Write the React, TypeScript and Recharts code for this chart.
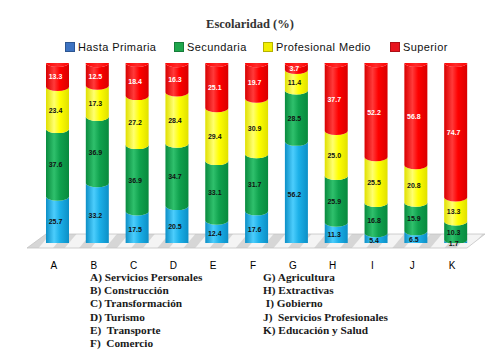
import React from 'react';
import { BarChart, Bar, XAxis, YAxis, LabelList, ReferenceArea } from 'recharts';

const categories = ['A', 'B', 'C', 'D', 'E', 'F', 'G', 'H', 'I', 'J', 'K'];
const hastaPrimaria = [25.7, 33.2, 17.5, 20.5, 12.4, 17.6, 56.2, 11.3, 5.4, 6.5, 1.7];
const secundaria = [37.6, 36.9, 36.9, 34.7, 33.1, 31.7, 28.5, 25.9, 16.8, 15.9, 10.3];
const profesionalMedio = [23.4, 17.3, 27.2, 28.4, 29.4, 30.9, 11.4, 25.0, 25.5, 20.8, 13.3];
const superior = [13.3, 12.5, 18.4, 16.3, 25.1, 19.7, 3.7, 37.7, 52.2, 56.8, 74.7];
const seriesNames = ['Hasta Primaria', 'Secundaria', 'Profesional Medio', 'Superior'];
const sectorsLeft = [
  'A) Servicios Personales',
  'B) Construcción',
  'C) Transformación',
  'D) Turismo',
  'E)  Transporte',
  'F)  Comercio',
];
const sectorsRight = [
  'G) Agricultura',
  'H) Extractivas',
  ' I) Gobierno',
  'J)  Servicios Profesionales',
  'K) Educación y Salud',
];
const titleText = 'Escolaridad (%)';

const data = categories.map((c, i) => ({
  cat: c,
  s0: hastaPrimaria[i],
  s1: secundaria[i],
  s2: profesionalMedio[i],
  s3: superior[i],
}));

type Pal = { dark: string; light: string; base: string; cap: string; legend: string; text: string };
const palettes: Pal[] = [
  { dark: '#0c8fc6', light: '#4ccdfc', base: '#1cb0e8', cap: '#3cc4f6', legend: '#3d73c2', text: '#111111' },
  { dark: '#088a3e', light: '#2fc06c', base: '#10a24e', cap: '#28b862', legend: '#1ea64c', text: '#111111' },
  { dark: '#e0e000', light: '#ffff70', base: '#ffff00', cap: '#ffff60', legend: '#f2ee00', text: '#111111' },
  { dark: '#d80000', light: '#ff3a3a', base: '#ff0000', cap: '#ff2a2a', legend: '#e8141e', text: '#ffffff' },
];

const makeCylinder = (key: string, c: Pal, isTop: boolean) => (props: any) => {
  const { x, y, width, height, index } = props;
  if (width == null || height == null || isNaN(x) || isNaN(y)) return null;
  const rx = width / 2;
  const ry = 4;
  const cx = x + rx;
  const id = `cyl-${key}-${index}`;
  const capId = `cap-${key}-${index}`;
  const d = `M${x},${y} A${rx},${ry} 0 0 0 ${x + width},${y} L${x + width},${y + height} A${rx},${ry} 0 0 1 ${x},${y + height} Z`;
  return (
    <g>
      <defs>
        <linearGradient id={id} x1="0" y1="0" x2="1" y2="0">
          <stop offset="0" stopColor={c.dark} />
          <stop offset="0.35" stopColor={c.light} />
          <stop offset="0.6" stopColor={c.base} />
          <stop offset="1" stopColor={c.dark} />
        </linearGradient>
        <linearGradient id={capId} x1="0" y1="0" x2="1" y2="0">
          <stop offset="0" stopColor={c.base} />
          <stop offset="0.5" stopColor={c.cap} />
          <stop offset="1" stopColor={c.base} />
        </linearGradient>
      </defs>
      <path d={d} fill={`url(#${id})`} />
      {isTop && <ellipse cx={cx} cy={y} rx={rx} ry={ry} fill={`url(#${capId})`} />}
    </g>
  );
};

const Floor = (props: any) => {
  const { x, y, width, height } = props;
  if (x == null || isNaN(x)) return null;
  const bottom = y + height + 5;
  const pts = `${x + 8},${y} ${x + width + 9},${y} ${x + width - 9},${bottom} ${x - 11},${bottom}`;
  return (
    <g>
      <defs>
        <pattern id="floorStripes" patternUnits="userSpaceOnUse" width="20" height="20" patternTransform="rotate(40)">
          <rect x="0" y="0" width="20" height="20" fill="#f4f4f4" />
          <rect x="0" y="0" width="9" height="20" fill="#d6d6d6" />
        </pattern>
      </defs>
      <polygon points={pts} fill="url(#floorStripes)" stroke="#c4c4c4" strokeWidth={0.8} />
    </g>
  );
};

const fmt = (v: any) => (typeof v === 'number' ? v.toFixed(1) : v);

const makeLabel = (color: string) => (p: any) => {
  const { x, y, width, height, value } = p;
  if (x == null || isNaN(Number(x))) return null;
  return (
    <text
      x={Number(x) + Number(width) / 2 - 2}
      y={Number(y) + Number(height) / 2 + 2}
      textAnchor="middle"
      dominantBaseline="central"
      fontSize={7}
      fontWeight="bold"
      fontFamily="'Liberation Sans', Arial, sans-serif"
      fill={color}
    >
      {fmt(value)}
    </text>
  );
};

const Tick = (props: any) => {
  const { x, y, payload } = props;
  return (
    <text
      x={x - 4}
      y={y + 22}
      textAnchor="middle"
      dominantBaseline="central"
      fontSize={10}
      fontFamily="'Liberation Sans', Arial, sans-serif"
      fill="#000"
    >
      {payload.value}
    </text>
  );
};

const legendX = [65, 174, 263, 390];

const sectorStyle = (left: number): React.CSSProperties => ({
  position: 'absolute',
  left,
  top: 271,
  fontFamily: "'Liberation Serif', 'Times New Roman', serif",
  fontSize: 11.3,
  fontWeight: 'bold',
  lineHeight: '13.2px',
  color: '#1a1a1a',
  whiteSpace: 'pre',
});

export default function App() {
  const keys = ['s0', 's1', 's2', 's3'];
  return (
    <div style={{ position: 'absolute', left: 0, top: 0, width: 500, height: 350, background: '#fff', overflow: 'hidden' }}>
      <div
        style={{
          position: 'absolute',
          left: 0,
          width: 500,
          top: 16,
          textAlign: 'center',
          fontFamily: "'Liberation Serif', 'Times New Roman', serif",
          fontWeight: 'bold',
          fontSize: 12.5,
          color: '#333',
          lineHeight: '16px',
        }}
      >
        {titleText}
      </div>
      {seriesNames.map((n, i) => (
        <div
          key={n}
          style={{
            position: 'absolute',
            left: legendX[i],
            top: 40,
            height: 14,
            display: 'flex',
            alignItems: 'center',
            fontFamily: "'Liberation Sans', Arial, sans-serif",
            fontSize: 11,
            letterSpacing: 0.4,
            color: '#111',
            whiteSpace: 'nowrap',
          }}
        >
          <span
            style={{
              display: 'inline-block',
              width: 8,
              height: 8,
              background: palettes[i].legend,
              border: '0.5px solid rgba(0,0,0,0.25)',
              marginRight: 3,
            }}
          />
          {n}
        </div>
      ))}
      <BarChart
        width={500}
        height={350}
        data={data}
        margin={{ top: 63, right: 24, left: 38, bottom: 77 }}
        barSize={23}
      >
        <YAxis hide domain={[0, 100]} type="number" allowDataOverflow />
        <XAxis
          dataKey="cat"
          tickLine={false}
          axisLine={false}
          tickSize={0}
          tickMargin={0}
          height={30}
          interval={0}
          tick={<Tick />}
        />
        <ReferenceArea y1={0} y2={5} shape={<Floor />} ifOverflow="visible" />
        {keys.map((k, i) => (
          <Bar
            key={k}
            dataKey={k}
            name={seriesNames[i]}
            stackId="a"
            fill={palettes[i].base}
            isAnimationActive={false}
            shape={makeCylinder(k, palettes[i], i === 3)}
          >
            <LabelList dataKey={k} content={makeLabel(palettes[i].text)} />
          </Bar>
        ))}
      </BarChart>
      <div style={sectorStyle(90)}>
        {sectorsLeft.map((s) => (
          <div key={s}>{s}</div>
        ))}
      </div>
      <div style={sectorStyle(263)}>
        {sectorsRight.map((s) => (
          <div key={s}>{s}</div>
        ))}
      </div>
    </div>
  );
}
